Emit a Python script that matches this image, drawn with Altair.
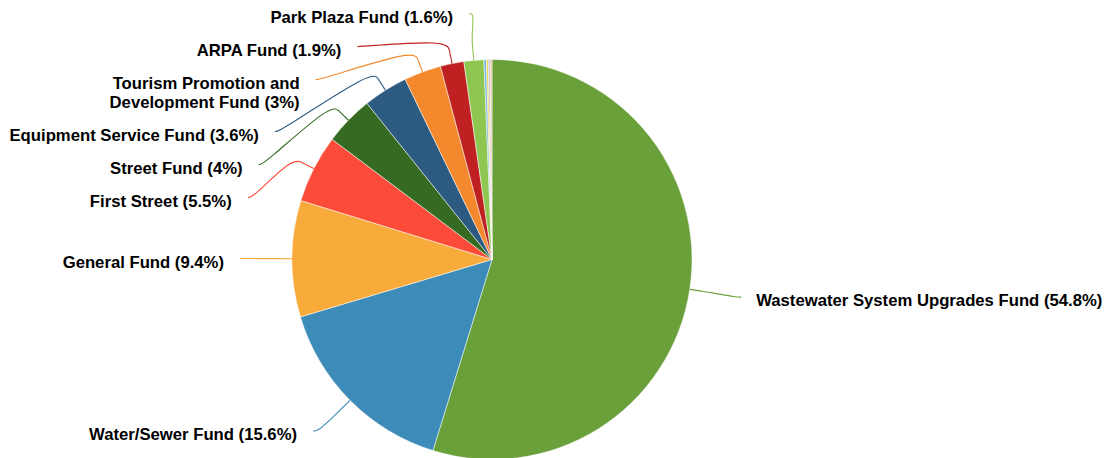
import math
import altair as alt
import pandas as pd

# ---- data ----
names = [
    "Wastewater System Upgrades Fund",
    "Water/Sewer Fund",
    "General Fund",
    "First Street",
    "Street Fund",
    "Equipment Service Fund",
    "Tourism Promotion and Development Fund",
    "ARPA Fund",
    "Park Plaza Fund",
    "Other Fund A",
    "Other Fund B",
    "Other Fund C",
    "Other Fund D",
]
values = [54.8, 15.6, 9.4, 5.5, 4.0, 3.6, 3.0, 1.9, 1.6, 0.2, 0.15, 0.15, 0.15]
label_texts = [
    "Wastewater System Upgrades Fund (54.8%)",
    "Water/Sewer Fund (15.6%)",
    "General Fund (9.4%)",
    "First Street (5.5%)",
    "Street Fund (4%)",
    "Equipment Service Fund (3.6%)",
    "Tourism Promotion and\nDevelopment Fund (3%)",
    "ARPA Fund (1.9%)",
    "Park Plaza Fund (1.6%)",
    "", "", "", "",
]
colors = [
    "#69a03a", "#3d8bb8", "#f8aa3b", "#fc4b38", "#356a22", "#2c5a81",
    "#f3882d", "#bf2122", "#8ec651", "#76b9e0", "#f2d23a", "#c4b8d8", "#e6c79f",
]

# ---- layout constants ----
W, H = 1094, 450
CX, CY = 484, 251.5
R = 200
LD = 52          # label distance
BRK = 12         # connector break offset
TOP, BOTTOM = 5.5, 423
LINE_H = 19
FS = 16.7

df = pd.DataFrame({"name": names, "value": values, "idx": range(len(names)), "label": label_texts})

total = sum(values)
rows = []
cum = 0.0
for i, (n, v, lab) in enumerate(zip(names, values, label_texts)):
    mid = (cum + v / 2) / total
    cum += v
    if not lab:
        continue
    th = 2 * math.pi * mid
    dx, dy = math.sin(th), -math.cos(th)
    rows.append(dict(
        name=n, label=lab, nlines=lab.count("\n") + 1,
        side="right" if dx >= 0 else "left",
        tx=CX + R * dx, ty=CY + R * dy,
        bx=CX + (R + BRK) * dx, by=CY + (R + BRK) * dy,
        nx=CX + (R + LD) * dx, ny=CY + (R + LD) * dy,
    ))


def get_x(y, left):
    s = max(-1.0, min(1.0, (y - CY) / (R + LD)))
    return CX + (-1 if left else 1) * math.cos(math.asin(s)) * (R + LD)


for side in ("left", "right"):
    grp = sorted([r for r in rows if r["side"] == side], key=lambda r: r["ny"])
    prev = None
    for r in grp:
        a = max(r["ny"], TOP)
        if prev is not None:
            a = max(a, prev["ay"] + 14 + LINE_H * prev["nlines"])
        r["ay"] = a
        prev = r
    nxt = None
    for r in reversed(grp):
        a = min(r["ay"], BOTTOM)
        if nxt is not None:
            a = min(a, nxt["ay"] - (14 + LINE_H * r["nlines"]))
        r["ay"] = a
        nxt = r
    for r in grp:
        clamped = r["ay"] <= TOP + 2 or r["ay"] >= BOTTOM - 2
        yy = r["ny"] if clamped else r["ay"]
        r["ax"] = get_x(yy, side == "left")

line_rows, text_rows = [], []
for r in rows:
    left = r["side"] == "left"
    sgn = 1 if left else -1
    pts = [
        (r["ax"], r["ay"]),
        (r["ax"] + 5 * sgn, r["ay"]),
        (2 * r["bx"] - r["tx"], 2 * r["by"] - r["ty"]),
        (r["bx"], r["by"]),
    ]
    for k, (x, y) in enumerate(pts):
        line_rows.append(dict(name=r["name"], seg=r["name"] + "-c", k=k, x=x, y=y))
    line_rows.append(dict(name=r["name"], seg=r["name"] + "-s", k=0, x=r["bx"], y=r["by"]))
    line_rows.append(dict(name=r["name"], seg=r["name"] + "-s", k=1, x=r["tx"], y=r["ty"]))
    text_rows.append(dict(
        name=r["name"], label=r["label"], side=r["side"],
        x=r["ax"] - 16 if left else r["ax"] + 15,
        y=r["ay"] + 9,
    ))

lines_df = pd.DataFrame(line_rows)
text_df = pd.DataFrame(text_rows)

color_scale = alt.Scale(domain=names, range=colors)

arc = alt.Chart(df).mark_arc(radius=R, stroke="white", strokeWidth=0.5).encode(
    theta=alt.Theta("value:Q", stack=True),
    color=alt.Color("name:N", scale=color_scale, legend=None),
    order=alt.Order("idx:Q"),
    x=alt.value(CX),
    y=alt.value(CY),
)

connectors = alt.Chart(lines_df).mark_line(interpolate="basis", strokeWidth=1.1).encode(
    x=alt.X("x:Q", scale=None),
    y=alt.Y("y:Q", scale=None),
    detail="seg:N",
    order="k:Q",
    color=alt.Color("name:N", scale=color_scale, legend=None),
)

text_common = dict(fontSize=FS, fontWeight="bold", font="Liberation Sans", color="#000000",
                   baseline="alphabetic", lineBreak="\n", lineHeight=LINE_H)

left_text = alt.Chart(text_df).transform_filter(alt.datum.side == "left").mark_text(
    align="right", **text_common
).encode(x=alt.X("x:Q", scale=None), y=alt.Y("y:Q", scale=None), text="label:N")

right_text = alt.Chart(text_df).transform_filter(alt.datum.side == "right").mark_text(
    align="left", **text_common
).encode(x=alt.X("x:Q", scale=None), y=alt.Y("y:Q", scale=None), text="label:N")

chart = alt.layer(arc, connectors, left_text, right_text).properties(
    width=W, height=H, padding=0, autosize=alt.AutoSizeParams(type="none")
).configure_view(stroke=None)

chart.save("out.html", embed_options={"renderer": "svg", "actions": False})
